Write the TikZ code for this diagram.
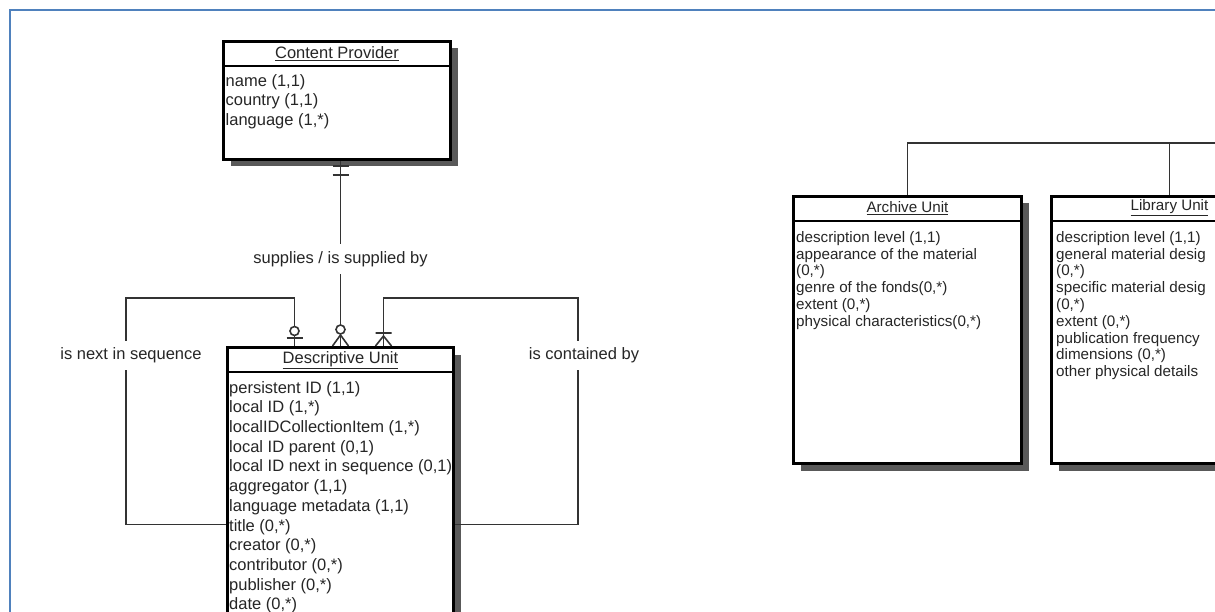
\documentclass[tikz,border=0pt]{standalone}
\usepackage{fontspec}
\setmainfont{Liberation Sans}
\usepackage{tikz}
\usetikzlibrary{calc,shadows,positioning}
\newcommand{\leftsize}{\fontsize{16.5}{19.7}\selectfont}
\newcommand{\rightsize}{\fontsize{15.2}{16.8}\selectfont}
\definecolor{framecol}{RGB}{79,129,189}
\tikzset{
  entity/.style={draw=black, line width=3pt, fill=white, anchor=north west, inner sep=0pt,
    drop shadow={shadow xshift=7pt, shadow yshift=-7pt, fill=black!65, opacity=1}},
  hline/.style={draw=black, line width=1.6pt},
  etitle/.style={inner sep=0pt, text=black!85},
  attrs/.style={anchor=north west, inner sep=0pt, align=left, text=black!85},
  rel/.style={draw=black!80, line width=1.6pt},
  rlabel/.style={fill=white, inner xsep=2pt, inner ysep=7pt, text=black!85, font=\leftsize},
  onlyone/.pic={\draw[rel] (-8,5) -- (8,5) (-8,14) -- (8,14);},
  zeroone/.pic={\draw[rel] (-8,-8) -- (8,-8); \draw[rel, fill=white] (0,-15) circle (4.5pt);},
  zeromany/.pic={\draw[rel] (-8,0) -- (0,-11) -- (8,0); \draw[rel, fill=white] (0,-16.5) circle (4.5pt);},
  onemany/.pic={\draw[rel] (-8,0) -- (0,-10) -- (8,0) (-8,-13) -- (8,-13);},
}

\begin{document}
\begin{tikzpicture}[x=1pt, y=-1pt]
	\useasboundingbox (0,0) rectangle (1215,612);
	\fill[white] (0,0) rectangle (1215,612);
	\clip (0,0) rectangle (1215,612);
	\draw[framecol, line width=2pt] (10,10) rectangle (1240,640);

	% content provider
	\node[entity, minimum width=227, minimum height=118] (cp) at (222,40) {};
	\draw[hline] ($(cp.north west)+(0,26)$) -- ($(cp.north east)+(0,26)$);
	\node[etitle, font=\leftsize] (cpT) at ($(cp.north)+(0,14)$) {\underline{Content Provider}};
	\node[attrs, font=\leftsize] (cpA) at (225.5,74) {name (1,1)\\country (1,1)\\language (1,*)};

	% descriptive unit
	\node[entity, minimum width=226, minimum height=354] (du) at (226,346) {};
	\draw[hline] ($(du.north west)+(0,26)$) -- ($(du.north east)+(0,26)$);
	\node[etitle, font=\leftsize] (duT) at ($(du.north)+(0,14)$) {\underline{Descriptive Unit}};
	\node[attrs, font=\leftsize] (duA) at (229,381) {persistent ID (1,1)\\local ID (1,*)\\localIDCollectionItem (1,*)\\local ID parent (0,1)\\local ID next in sequence (0,1)\\aggregator (1,1)\\language metadata (1,1)\\title (0,*)\\creator (0,*)\\contributor (0,*)\\publisher (0,*)\\date (0,*)};

	% supplies / is supplied by
	\coordinate (cpS) at (cp.south -| du.north);
	\draw[rel] (cpS) -- node[rlabel, pos=0.53] (supL) {supplies / is supplied by} (du.north);
	\pic at (cpS) {onlyone};
	\pic at (du.north) {zeromany};

	% is next in sequence
	\coordinate (loopL) at (126,298);
	\coordinate (duL) at ($(du.north)+(-46,0)$);
	\draw[rel] (du.west) -| node[rlabel, pos=0.873, xshift=5pt] (nextL) {is next in sequence} (loopL) -| (duL);
	\pic at (duL) {zeroone};

	% is contained by
	\coordinate (loopR) at (578,298);
	\coordinate (duR) at ($(du.north)+(43,0)$);
	\draw[rel] (du.east) -| node[rlabel, pos=0.873, xshift=6pt] (contL) {is contained by} (loopR) -| (duR);
	\pic at (duR) {onemany};

	% archive unit
	\node[entity, minimum width=228, minimum height=267] (au) at (792,195) {};
	\draw[hline] ($(au.north west)+(0,26)$) -- ($(au.north east)+(0,26)$);
	\node[etitle, font=\rightsize] (auT) at ($(au.north)+(0,13)$) {\underline{Archive Unit}};
	\node[attrs, font=\rightsize] (auA) at (796,231) {description level (1,1)\\appearance of the material\\(0,*)\\genre of the fonds(0,*)\\extent (0,*)\\physical characteristics(0,*)};

	% library unit
	\node[entity, minimum width=236, minimum height=267] (lu) at (1050,195) {};
	\draw[hline] ($(lu.north west)+(0,26)$) -- ($(lu.north east)+(0,26)$);
	\node[etitle, font=\rightsize] (luT) at ($(lu.north)+(0,13)$) {\underline{Library Unit}};
	\node[attrs, font=\rightsize] (luA) at (1056,231) {description level (1,1)\\general material desig\\(0,*)\\specific material desig\\(0,*)\\extent (0,*)\\publication frequency\\dimensions (0,*)\\other physical details};

	% generalisation
	\coordinate (tree) at (au.north |- 0,143);
	\coordinate (treeE) at (1240,143);
	\draw[rel] (au.north) -- (tree) -- (treeE);
	\draw[rel] (lu.north) -- (lu.north |- tree);
\end{tikzpicture}
\end{document}
